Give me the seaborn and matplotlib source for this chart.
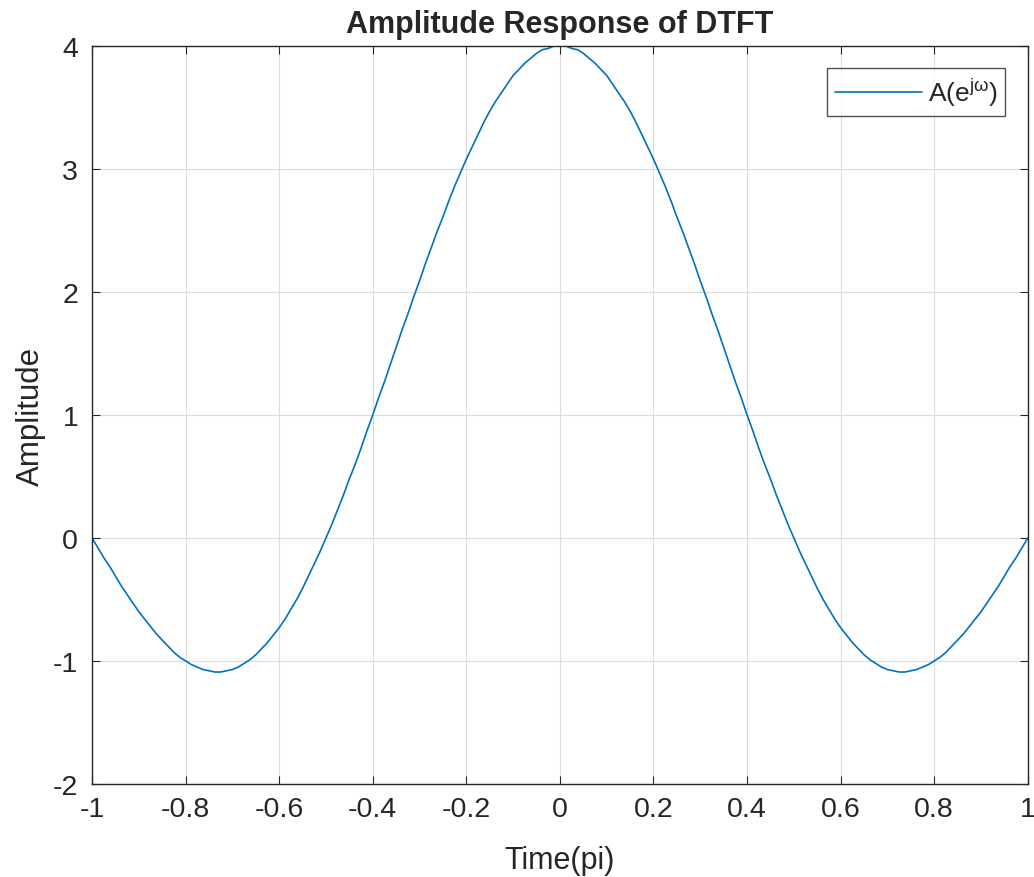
#Import the required packages
import numpy as np
import pandas as pd
import seaborn as sns
import matplotlib.pyplot as plt

##################
# Data (read off) #
##################

#Frequency in units of pi, half range 0..1 (curve is symmetric)
freq_half = [0.0, 0.0125, 0.025, 0.0375, 0.05, 0.0625, 0.075, 0.0875, 0.1, 0.1125,
             0.125, 0.1375, 0.15, 0.1625, 0.175, 0.1875, 0.2, 0.2125, 0.225, 0.2375,
             0.25, 0.2625, 0.275, 0.2875, 0.3, 0.3125, 0.325, 0.3375, 0.35, 0.3625,
             0.375, 0.3875, 0.4, 0.4125, 0.425, 0.4375, 0.45, 0.4625, 0.475, 0.4875,
             0.5, 0.5125, 0.525, 0.5375, 0.55, 0.5625, 0.575, 0.5875, 0.6, 0.6125,
             0.625, 0.6375, 0.65, 0.6625, 0.675, 0.6875, 0.7, 0.7125, 0.725, 0.7375,
             0.75, 0.7625, 0.775, 0.7875, 0.8, 0.8125, 0.825, 0.8375, 0.85, 0.8625,
             0.875, 0.8875, 0.9, 0.9125, 0.925, 0.9375, 0.95, 0.9625, 0.975, 0.9875, 1.0]
amp_half = [4.0, 4.0, 3.98, 3.97, 3.94, 3.90, 3.86, 3.81, 3.76, 3.69,
            3.62, 3.55, 3.47, 3.38, 3.28, 3.18, 3.08, 2.97, 2.86, 2.74,
            2.61, 2.49, 2.36, 2.23, 2.09, 1.96, 1.82, 1.69, 1.55, 1.41,
            1.27, 1.14, 1.0, 0.87, 0.73, 0.60, 0.48, 0.35, 0.23, 0.11,
            0.0, -0.11, -0.21, -0.31, -0.41, -0.50, -0.58, -0.66, -0.73, -0.79,
            -0.85, -0.90, -0.95, -0.99, -1.02, -1.05, -1.07, -1.08, -1.09, -1.09,
            -1.08, -1.07, -1.05, -1.03, -1.0, -0.97, -0.93, -0.88, -0.83, -0.78,
            -0.72, -0.66, -0.60, -0.53, -0.46, -0.39, -0.31, -0.23, -0.16, -0.08, 0.0]

x_ticks = [-1, -0.8, -0.6, -0.4, -0.2, 0, 0.2, 0.4, 0.6, 0.8, 1]
x_ticklabels = ['-1', '-0.8', '-0.6', '-0.4', '-0.2', '0', '0.2', '0.4', '0.6', '0.8', '1']
y_ticks = [-2, -1, 0, 1, 2, 3, 4]
y_ticklabels = ['-2', '-1', '0', '1', '2', '3', '4']

#Mirror the half to get the full -1..1 range
freq = [-f for f in freq_half[::-1]] + freq_half[1:]
amp = amp_half[::-1] + amp_half[1:]
df = pd.DataFrame({'w': freq, 'A': amp})

##################
# Visualization  #
##################

sns.set_theme()
sns.set_style("white")
plt.rcParams['font.family'] = ['Liberation Sans', 'DejaVu Sans']
plt.rcParams['mathtext.fontset'] = 'custom'
plt.rcParams['mathtext.rm'] = 'Liberation Sans'
plt.rcParams['mathtext.it'] = 'Liberation Sans'
plt.rcParams['axes.unicode_minus'] = False

fig, ax = plt.subplots(figsize=(10.34, 8.78), dpi=100)
fig.subplots_adjust(left=0.089, right=0.994, top=0.9465, bottom=0.106)

sns.lineplot(data=df, x='w', y='A', sort=False, color='#0072BD', linewidth=1.2,
             label=r'A(e$^{j\omega}$)', ax=ax)

#Axis
ax.set_xlim(-1, 1)
ax.set_ylim(-2, 4)
ax.set_xticks(x_ticks)
ax.set_xticklabels(x_ticklabels)
ax.set_yticks(y_ticks)
ax.set_yticklabels(y_ticklabels)
ax.grid(True, color='#dcdcdc', linewidth=0.8)
ax.set_axisbelow(True)
for s in ax.spines.values():
    s.set_color('#262626')
    s.set_linewidth(1.0)
ax.tick_params(direction='in', length=6, width=0.8, colors='#262626',
               labelsize=20.5, top=True, right=True, bottom=True, left=True,
               labeltop=False, labelright=False)
ax.tick_params(axis='x', pad=9)
ax.tick_params(axis='y', pad=10)
ax.set_xlabel("Time(pi)", size=22, color='#262626', labelpad=16)
ax.set_ylabel("Amplitude", size=22.5, color='#262626', labelpad=5)
ax.set_title("Amplitude Response of DTFT", size=22, fontweight='bold', pad=10)

leg = ax.legend(loc='upper right', frameon=True, fancybox=False, fontsize=19,
                handlelength=3.3, borderaxespad=0.85, handletextpad=0.2,
                borderpad=0.3)
leg.get_frame().set_edgecolor('#262626')
leg.get_frame().set_linewidth(1.0)

fig.savefig('out.png', dpi=100)
